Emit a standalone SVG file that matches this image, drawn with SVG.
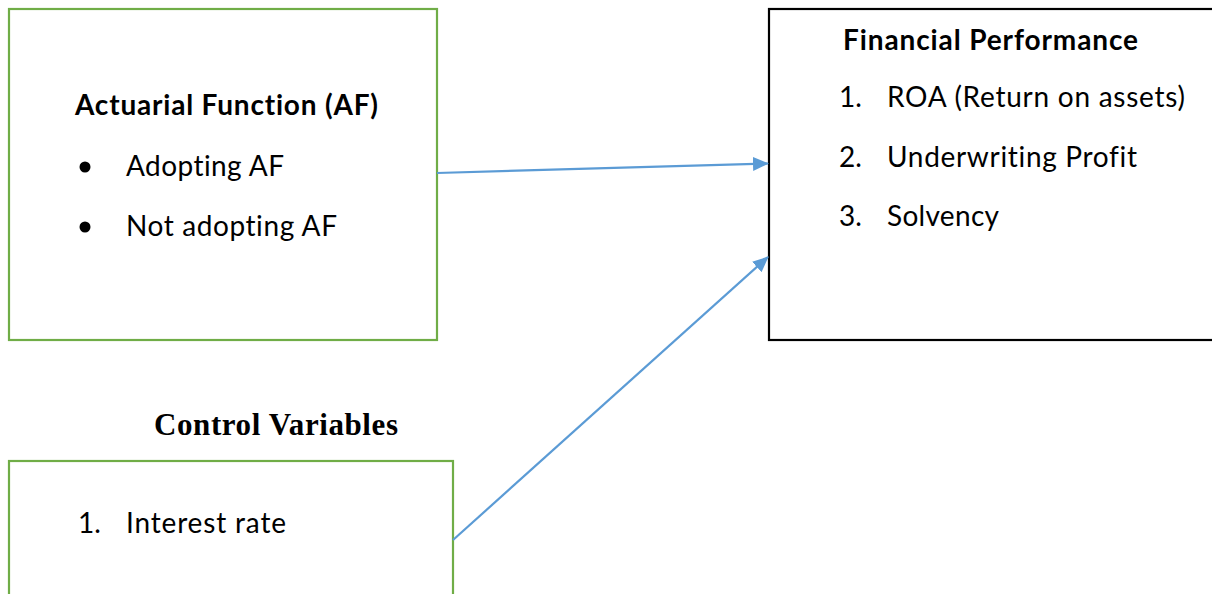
<svg xmlns="http://www.w3.org/2000/svg" width="1212" height="594" viewBox="0 0 1212 594">
<style>
.g{fill:#fff;stroke:#70AD47;stroke-width:2.2}
.k{fill:#fff;stroke:#000;stroke-width:2.2}
.t{font-family:Lato,"Liberation Sans",sans-serif;font-size:28px;fill:#000;font-variant-ligatures:none;font-feature-settings:"liga" 0,"clig" 0}
.b{font-weight:bold}
.tm{font-family:"Liberation Serif","Times New Roman",serif;font-size:31px;font-weight:bold;fill:#000}
.c{stroke:#5B9BD5;stroke-width:2.2;fill:none;marker-end:url(#ah)}
</style>
<defs>
<marker id="ah" markerUnits="userSpaceOnUse" markerWidth="16" markerHeight="14" refX="15" refY="7" orient="auto">
<path d="M0,0 L16,7 L0,14 Z" fill="#5B9BD5"/>
</marker>
</defs>
<rect width="1212" height="594" fill="#fff"/>
<g id="af">
<rect class="g" x="9" y="9" width="428" height="331"/>
<text class="t b" x="75" y="115" textLength="303">Actuarial Function (AF)</text>
<circle cx="85" cy="167" r="5.5"/>
<text class="t" x="126" y="176" textLength="158">Adopting AF</text>
<circle cx="85" cy="227" r="5.5"/>
<text class="t" x="126" y="236" textLength="211">Not adopting AF</text>
</g>
<g id="fp">
<rect class="k" x="769" y="9" width="460" height="331"/>
<text class="t b" x="843" y="50" textLength="295">Financial Performance</text>
<text class="t" x="839" y="107">1.</text>
<text class="t" x="887" y="107" textLength="298">ROA (Return on assets)</text>
<text class="t" x="839" y="167">2.</text>
<text class="t" x="887" y="167" textLength="250">Underwriting Profit</text>
<text class="t" x="839" y="226">3.</text>
<text class="t" x="887" y="226" textLength="112">Solvency</text>
</g>
<g id="cv">
<text class="tm" x="154" y="435" textLength="244">Control Variables</text>
<rect class="g" x="9" y="461" width="444" height="140"/>
<text class="t" x="78" y="533">1.</text>
<text class="t" x="126" y="533" textLength="160">Interest rate</text>
</g>
<g id="connectors">
<path class="c" d="M437,173 L768,163.5"/>
<path class="c" d="M453,540 L768,257"/>
</g>
</svg>
